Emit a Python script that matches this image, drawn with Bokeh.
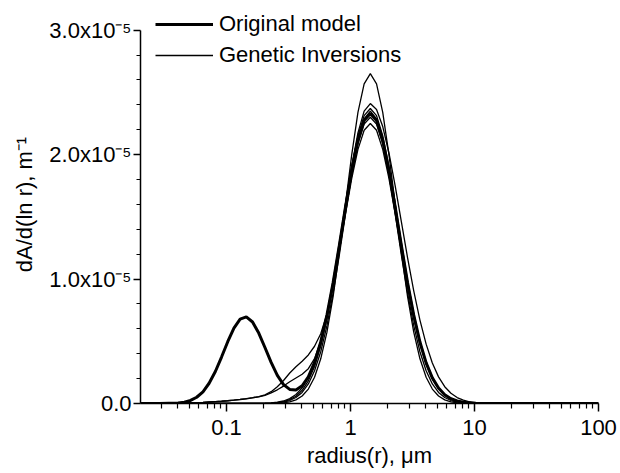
from bokeh.plotting import figure
from bokeh.models import Range1d, FixedTicker, Legend, LegendItem, ColumnDataSource
from bokeh.embed import file_html
from bokeh.resources import INLINE

# radius (micrometres)
radius = [0.0204, 0.0288, 0.0407, 0.0457, 0.0513, 0.0575, 0.0646, 0.0724, 0.0813, 0.0912,
          0.1023, 0.1148, 0.1288, 0.1445, 0.1622, 0.1820, 0.2042, 0.2291, 0.2570, 0.2884,
          0.3236, 0.3631, 0.4074, 0.4571, 0.5129, 0.5754, 0.6457, 0.7244, 0.8128, 0.9120,
          1.0233, 1.1482, 1.2882, 1.4454, 1.6218, 1.8197, 2.0417, 2.2909, 2.5704, 2.8840,
          3.2359, 3.6308, 4.0738, 4.5709, 5.1286, 5.7544, 6.4565, 7.2444, 8.1283, 9.1201,
          10.233, 15.85, 31.62, 100.0]

# dA/d(ln r) in units of 1e-5 m^-1
original_model = [0.0, 0.0002, 0.0045, 0.0109, 0.0245, 0.0502, 0.0943, 0.1627, 0.2573, 0.3733,
                  0.4965, 0.6058, 0.678, 0.6958, 0.6549, 0.566, 0.450, 0.330, 0.226, 0.152,
                  0.113, 0.109, 0.142, 0.214, 0.330, 0.495, 0.710, 0.973, 1.271, 1.581,
                  1.873, 2.115, 2.274, 2.330, 2.274, 2.115, 1.873, 1.581, 1.271, 0.973,
                  0.710, 0.494, 0.327, 0.206, 0.124, 0.071, 0.039, 0.020, 0.010, 0.005,
                  0.002, 0.0, 0.0, 0.0]

inversion_1 = [0, 0, 0, 0, 0, 0, 0, 0, 0, 0,
               0, 0, 0, 0, 0, 0, 0.0003, 0.0009, 0.0023, 0.0058,
               0.0135, 0.0294, 0.0604, 0.116, 0.211, 0.359, 0.573, 0.860, 1.213, 1.607,
               2.000, 2.339, 2.568, 2.65, 2.568, 2.339, 2.000, 1.607, 1.213, 0.860,
               0.573, 0.359, 0.211, 0.116, 0.0604, 0.0294, 0.0135, 0.0058, 0.0023, 0.0009,
               0.0003, 0, 0, 0]

inversion_2 = [0, 0, 0, 0, 0, 0, 0, 0, 0, 0,
               0, 0, 0, 0, 0, 0.0006, 0.0014, 0.0033, 0.0072, 0.0153,
               0.0307, 0.0584, 0.106, 0.182, 0.297, 0.461, 0.680, 0.951, 1.264, 1.594,
               1.910, 2.174, 2.349, 2.41, 2.362, 2.225, 2.013, 1.750, 1.462, 1.173,
               0.905, 0.670, 0.477, 0.326, 0.214, 0.135, 0.082, 0.048, 0.027, 0.014,
               0.0074, 0.0004, 0, 0]

inversion_3 = [0, 0, 0, 0, 0, 0, 0, 0, 0, 0,
               0, 0, 0, 0, 0, 0.0009, 0.0021, 0.0048, 0.010, 0.020,
               0.039, 0.072, 0.126, 0.210, 0.333, 0.502, 0.722, 0.990, 1.293, 1.608,
               1.905, 2.151, 2.313, 2.37, 2.313, 2.151, 1.905, 1.608, 1.293, 0.990,
               0.722, 0.502, 0.333, 0.210, 0.126, 0.072, 0.039, 0.020, 0.010, 0.0048,
               0.0021, 0, 0, 0]

inversion_4 = [0, 0.001, 0.003, 0.004, 0.005, 0.007, 0.009, 0.012, 0.015, 0.018,
               0.022, 0.027, 0.032, 0.038, 0.045, 0.054, 0.066, 0.085, 0.110, 0.140,
               0.175, 0.205, 0.235, 0.280, 0.360, 0.500, 0.701, 0.961, 1.254, 1.560,
               1.849, 2.087, 2.245, 2.30, 2.245, 2.087, 1.849, 1.560, 1.254, 0.961,
               0.701, 0.487, 0.323, 0.204, 0.122, 0.070, 0.038, 0.020, 0.0098, 0.0046,
               0.0021, 0, 0, 0]

inversion_5 = [0, 0.001, 0.003, 0.004, 0.005, 0.007, 0.009, 0.012, 0.015, 0.018,
               0.022, 0.027, 0.033, 0.040, 0.047, 0.056, 0.070, 0.095, 0.135, 0.185,
               0.245, 0.295, 0.340, 0.390, 0.460, 0.560, 0.720, 0.950, 1.227, 1.526,
               1.809, 2.042, 2.196, 2.25, 2.196, 2.042, 1.809, 1.526, 1.227, 0.940,
               0.686, 0.477, 0.316, 0.199, 0.120, 0.068, 0.037, 0.019, 0.0096, 0.0045,
               0.0020, 0, 0, 0]

inversion_6 = [0, 0, 0, 0, 0, 0, 0, 0, 0, 0,
               0, 0, 0, 0, 0, 0.0004, 0.001, 0.0023, 0.0054, 0.012,
               0.024, 0.048, 0.089, 0.157, 0.263, 0.416, 0.625, 0.888, 1.195, 1.525,
               1.842, 2.109, 2.287, 2.35, 2.287, 2.109, 1.842, 1.525, 1.195, 0.888,
               0.625, 0.416, 0.263, 0.157, 0.089, 0.048, 0.024, 0.012, 0.0054, 0.0023,
               0.001, 0, 0, 0]

inversions = [inversion_1, inversion_2, inversion_3, inversion_4, inversion_5, inversion_6]

x_ticks = [0.1, 1, 10, 100]
x_tick_labels = ["0.1", "1", "10", "100"]
x_minor = [0.02, 0.03, 0.04, 0.05, 0.06, 0.07, 0.08, 0.09,
           0.2, 0.3, 0.4, 0.5, 0.6, 0.7, 0.8, 0.9,
           2, 3, 4, 5, 6, 7, 8, 9,
           20, 30, 40, 50, 60, 70, 80, 90]
y_ticks = [0, 1, 2, 3]
y_tick_labels = ["0.0", "1.0x10\u207b\u2075", "2.0x10\u207b\u2075", "3.0x10\u207b\u2075"]
y_minor = [0.2, 0.4, 0.6, 0.8, 1.2, 1.4, 1.6, 1.8, 2.2, 2.4, 2.6, 2.8]

FONT = "Liberation Sans"

p = figure(width=620, height=473, x_axis_type="log",
           x_range=Range1d(0.02025, 100), y_range=Range1d(0, 3.198),
           output_backend="svg", toolbar_location=None,
           min_border_left=140, min_border_right=22, min_border_top=5, min_border_bottom=70)
p.outline_line_color = None
p.xgrid.visible = False
p.ygrid.visible = False
p.background_fill_color = "white"
p.border_fill_color = "white"

inv_renderers = []
for vals in inversions:
    src = ColumnDataSource(dict(r=radius, v=vals))
    inv_renderers.append(p.line("r", "v", source=src, line_color="black", line_width=1.3))
src_o = ColumnDataSource(dict(r=radius, v=original_model))
r_orig = p.line("r", "v", source=src_o, line_color="black", line_width=3)

xa = p.xaxis[0]
xa.ticker = FixedTicker(ticks=x_ticks, minor_ticks=x_minor)
xa.major_label_overrides = {t: l for t, l in zip(x_ticks, x_tick_labels)}
xa.major_tick_out = 8
xa.major_tick_in = 0
xa.minor_tick_out = 5
xa.minor_tick_in = 0
xa.major_label_standoff = 8
xa.axis_label = "radius(r), \u03bcm"
xa.axis_label_standoff = 5

ya = p.yaxis[0]
ya.ticker = FixedTicker(ticks=y_ticks, minor_ticks=y_minor)
ya.major_label_overrides = {t: l for t, l in zip(y_ticks, y_tick_labels)}
ya.bounds = (0, 3)
ya.major_tick_out = 7
ya.major_tick_in = 0
ya.minor_tick_out = 4
ya.minor_tick_in = 0
ya.major_label_standoff = 2
ya.axis_label = "dA/d(ln r), m\u207b\u00b9"
ya.axis_label_standoff = 9

for ax in (xa, ya):
    ax.axis_line_width = 1.5
    ax.axis_line_color = "black"
    ax.major_tick_line_width = 1.5
    ax.minor_tick_line_width = 1.2
    ax.major_tick_line_color = "black"
    ax.minor_tick_line_color = "black"
    ax.major_label_text_font = FONT
    ax.major_label_text_font_size = "22px"
    ax.major_label_text_color = "black"
    ax.axis_label_text_font = FONT
    ax.axis_label_text_font_size = "22px"
    ax.axis_label_text_font_style = "normal"
    ax.axis_label_text_color = "black"

legend = Legend(items=[LegendItem(label="Original model", renderers=[r_orig]),
                       LegendItem(label="Genetic Inversions", renderers=[inv_renderers[0]])],
                location=(15, 335), orientation="vertical",
                padding=0, margin=0, spacing=5, glyph_height=20, label_height=20,
                glyph_width=58, label_standoff=6,
                label_text_font=FONT, label_text_font_size="22px", label_text_color="black",
                border_line_color=None, background_fill_alpha=0)
p.add_layout(legend, "center")

open("out.html", "w").write(file_html(p, INLINE))
